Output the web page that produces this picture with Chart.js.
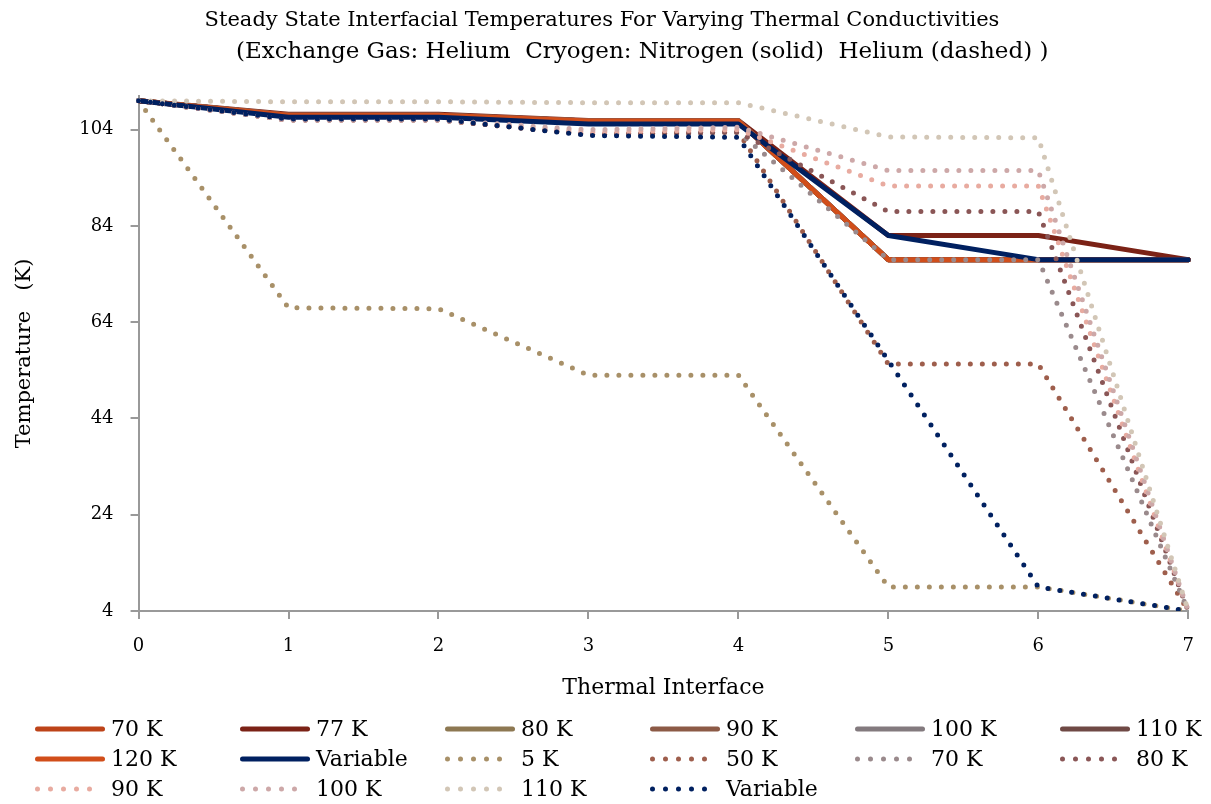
<!DOCTYPE html>
<html>
<head>
<meta charset="utf-8">
<script src="https://cdn.jsdelivr.net/npm/chart.js@4/dist/chart.umd.min.js"></script>
<style>
  html, body { margin: 0; padding: 0; background: #fff; }
  #wrap { width: 1211px; height: 804px; }
</style>
</head>
<body>
<div id="wrap"><canvas id="grafico" width="1211" height="804"></canvas></div>
<script>
// dados
const interfaces = ['0', '1', '2', '3', '4', '5', '6', '7'];
const yTicks = [4, 24, 44, 64, 84, 104];

// nitrogênio (linhas sólidas)
const n70 = [110, 107, 107, 105.8, 105.8, 77, 77, 77];
const n77 = [110, 107.2, 107.2, 105.9, 105.9, 82, 82, 77];
const n80 = [110, 107, 107, 105.8, 105.8, 77, 77, 77];
const n90 = [110, 107, 107, 105.8, 105.8, 77, 77, 77];
const n100 = [110, 107, 107, 105.8, 105.8, 77, 77, 77];
const n110 = [110, 107, 107, 105.8, 105.8, 77, 77, 77];
const n120 = [110, 107, 107, 105.8, 105.8, 77, 77, 77];
const nVar = [110, 106.6, 106.6, 105.2, 105.2, 82, 77, 77];

// hélio (linhas pontilhadas)
const h5 = [110, 67, 66.8, 53, 53, 9, 9, 4];
const h50 = [110, 106, 106, 103, 103.5, 55.3, 55.3, 4];
const h70 = [110, 106, 106, 103, 103.5, 77, 77, 4];
const h80 = [110, 106, 106, 103, 103.5, 87, 87, 4];
const h90 = [110, 106, 106, 103.5, 104, 92.3, 92.3, 4];
const h100 = [110, 106, 106, 104, 104.5, 95.5, 95.5, 4];
const h110 = [110, 109.8, 109.8, 109.6, 109.6, 102.5, 102.3, 4];
const hVar = [110, 106.2, 106.2, 102.8, 102.4, 56, 9, 4];

const FONTE = '"DejaVu Serif", serif';

const series = [
  { label: '70 K', data: n70, cor: '#BD4319', pont: false },
  { label: '77 K', data: n77, cor: '#7B2216', pont: false },
  { label: '80 K', data: n80, cor: '#8D7852', pont: false },
  { label: '90 K', data: n90, cor: '#8C5A46', pont: false },
  { label: '100 K', data: n100, cor: '#837A7E', pont: false },
  { label: '110 K', data: n110, cor: '#6F4945', pont: false },
  { label: '120 K', data: n120, cor: '#D14E1A', pont: false },
  { label: 'Variable', data: nVar, cor: '#002060', pont: false },
  { label: '5 K', data: h5, cor: '#A89068', pont: true },
  { label: '50 K', data: h50, cor: '#9E5E4C', pont: true },
  { label: '70 K', data: h70, cor: '#9A8A8C', pont: true },
  { label: '80 K', data: h80, cor: '#8A5656', pont: true },
  { label: '90 K', data: h90, cor: '#E8ABA0', pont: true },
  { label: '100 K', data: h100, cor: '#CDA8A8', pont: true },
  { label: '110 K', data: h110, cor: '#D2C6B6', pont: true },
  { label: 'Variable', data: hVar, cor: '#002060', pont: true }
];

const datasets = series.map((s, i) => ({
  label: s.label,
  data: s.data,
  borderColor: s.cor,
  backgroundColor: s.cor,
  borderWidth: 5,
  borderDash: s.pont ? [0, 12] : [],
  borderCapStyle: 'round',
  borderJoinStyle: 'round',
  pointRadius: 0,
  tension: 0,
  fill: false,
  order: series.length - i
}));

// legenda desenhada no canvas em grade de 6 colunas
const legendaGrade = {
  id: 'legendaGrade',
  afterDraw(chart) {
    const c = chart.ctx;
    c.save();
    chart.data.datasets.forEach((ds, i) => {
      const col = i % 6;
      const row = Math.floor(i / 6);
      const x = 35 + col * 205;
      const y = 729 + row * 30;
      c.beginPath();
      c.strokeStyle = ds.borderColor;
      c.lineWidth = 5;
      c.lineCap = 'round';
      c.setLineDash(ds.borderDash.length ? [0, 13] : []);
      c.moveTo(x + 2.5, y);
      c.lineTo(x + 67.5, y);
      c.stroke();
      c.setLineDash([]);
      c.fillStyle = '#000';
      c.font = '22px ' + FONTE;
      c.textBaseline = 'middle';
      c.textAlign = 'left';
      c.fillText(ds.label, x + 76, y + 1);
    });
    c.restore();
  }
};

const ctx = document.getElementById('grafico').getContext('2d');
new Chart(ctx, {
  type: 'line',
  data: { labels: interfaces, datasets: datasets },
  plugins: [legendaGrade],
  options: {
    responsive: false,
    animation: false,
    layout: { padding: { left: 12, right: 19, top: 4, bottom: 103 } },
    plugins: {
      legend: { display: false },
      tooltip: { enabled: false },
      title: {
        display: true,
        text: 'Steady State Interfacial Temperatures For Varying Thermal Conductivities',
        color: '#000',
        font: { family: FONTE, size: 21, weight: 'normal', lineHeight: 1.4 },
        padding: { top: 2, bottom: 0 }
      },
      subtitle: {
        display: true,
        text: '           (Exchange Gas: Helium  Cryogen: Nitrogen (solid)  Helium (dashed) )',
        color: '#000',
        font: { family: FONTE, size: 23, weight: 'normal', lineHeight: 1.2 },
        padding: { top: 3, bottom: 30 }
      }
    },
    scales: {
      x: {
        type: 'category',
        offset: false,
        grid: { display: true, drawOnChartArea: false, drawTicks: true, tickLength: 8, color: '#999', lineWidth: 2 },
        border: { display: true, color: '#999', width: 2 },
        ticks: { color: '#000', font: { family: FONTE, size: 18 }, padding: 17, maxRotation: 0 },
        title: { display: true, text: 'Thermal Interface', color: '#000', font: { family: FONTE, size: 22 }, padding: { top: 0, bottom: 0 } }
      },
      y: {
        min: 4,
        max: 111,
        afterBuildTicks(scale) { scale.ticks = yTicks.map(v => ({ value: v })); },
        grid: { display: true, drawOnChartArea: false, drawTicks: true, tickLength: 8, color: '#999', lineWidth: 2 },
        border: { display: true, color: '#999', width: 2 },
        ticks: { color: '#000', font: { family: FONTE, size: 18 }, padding: 17 },
        title: { display: true, text: 'Temperature   (K)', color: '#000', font: { family: FONTE, size: 21 }, padding: { top: 0, bottom: 25 } }
      }
    }
  }
});
</script>
</body>
</html>
